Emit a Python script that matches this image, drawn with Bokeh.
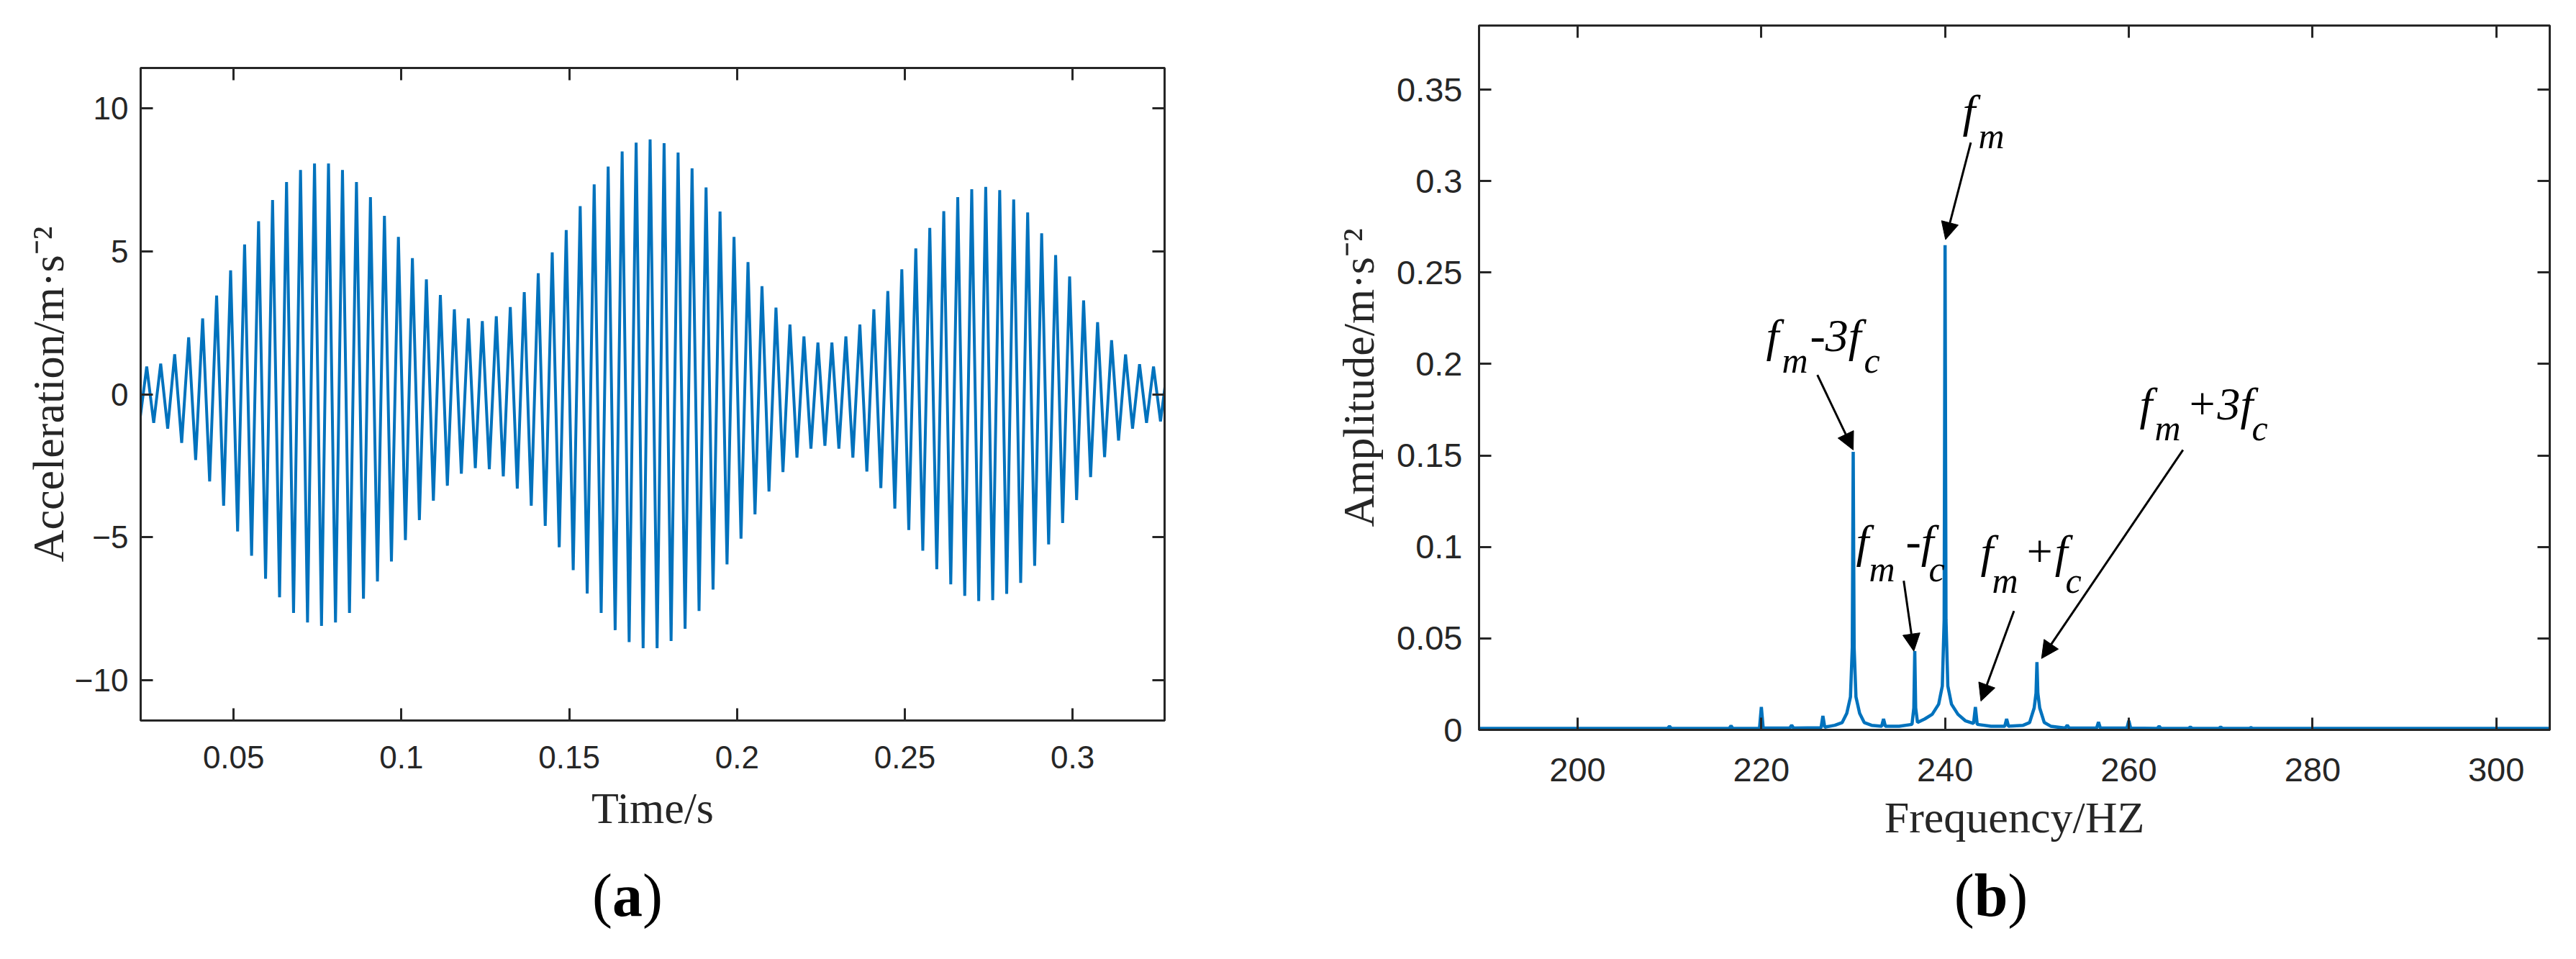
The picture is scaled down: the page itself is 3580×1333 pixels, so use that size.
from bokeh.plotting import figure
from bokeh.models import Range1d, FixedTicker, LinearAxis, Label, Arrow, NormalHead, Div
from bokeh.layouts import row, column
from bokeh.embed import file_html
from bokeh.resources import INLINE

# (a) vibration signal: amplitude of each crest / trough
carrier_hz = 240.0
first_crest_s = 0.0241
crest_amp = [0.97, 1.07, 1.40, 1.99, 2.65, 3.45, 4.33, 5.24, 6.05, 6.79,
             7.42, 7.84, 8.07, 8.07, 7.84, 7.42, 6.89, 6.24, 5.50, 4.76,
             4.02, 3.47, 2.97, 2.65, 2.56, 2.73, 3.05, 3.57, 4.23, 4.96,
             5.74, 6.58, 7.34, 7.96, 8.49, 8.80, 8.91,
             8.78, 8.45, 7.90, 7.23, 6.39, 5.50, 4.62, 3.78, 3.03,
             2.44, 2.02, 1.81, 1.81, 2.02, 2.44, 2.97, 3.61, 4.37, 5.10,
             5.82, 6.40, 6.89, 7.17, 7.25, 7.14, 6.81, 6.36, 5.63, 4.87,
             4.12, 3.28, 2.52, 1.89, 1.39, 1.05, 0.97, 0.95]
trough_amp = [0.95,
              1.0, 1.2, 1.7, 2.3, 3.05, 3.9, 4.8, 5.65, 6.45, 7.1,
              7.65, 7.98, 8.1, 7.98, 7.65, 7.15, 6.55, 5.85, 5.1, 4.4,
              3.72, 3.2, 2.78, 2.58, 2.62, 2.87, 3.3, 3.9, 4.6, 5.35,
              6.15, 6.97, 7.65, 8.25, 8.67, 8.88,
              8.88, 8.63, 8.2, 7.58, 6.83, 5.95, 5.05, 4.2, 3.4, 2.72,
              2.22, 1.9, 1.8, 1.9, 2.22, 2.7, 3.28, 4.0, 4.75, 5.47,
              6.12, 6.65, 7.05, 7.23, 7.2, 6.98, 6.6, 6.0, 5.25, 4.5,
              3.7, 2.9, 2.2, 1.62, 1.2, 1.0,
              0.95]

# (b) amplitude spectrum
spec_freq = [189, 209.8, 210.0, 210.2, 216.5, 216.7, 216.9, 219.8, 220.0, 220.2,
             223.1, 223.3, 223.5, 226.5, 226.7, 226.9, 228.0, 228.8, 229.3, 229.7,
             229.9, 230.0, 230.1, 230.3, 230.7, 231.2, 232.0, 233.1, 233.3, 233.5,
             235.0, 236.4, 236.6, 236.7, 236.8, 237.0, 237.8, 238.6, 239.3, 239.7,
             239.9, 240.0, 240.1, 240.3, 240.7, 241.4, 242.2, 243.1, 243.3, 243.5,
             245.0, 246.5, 246.7, 246.9, 248.5, 249.2, 249.7, 249.9, 250.0, 250.1,
             250.3, 250.8, 251.5, 253.1, 253.3, 253.5, 256.5, 256.7, 256.9, 259.8,
             260.0, 260.2, 263.1, 263.3, 263.5, 266.5, 266.7, 266.9, 269.8, 270.0,
             270.2, 273.1, 273.3, 273.5, 306]
spec_amp = [0.0008, 0.0008, 0.002, 0.0008, 0.0008, 0.0022, 0.0008, 0.0008, 0.0125, 0.001,
            0.001, 0.0026, 0.001, 0.0012, 0.0076, 0.0015, 0.0025, 0.004, 0.009, 0.018,
            0.045, 0.152, 0.045, 0.018, 0.009, 0.004, 0.0025, 0.002, 0.006, 0.002,
            0.002, 0.003, 0.012, 0.043, 0.012, 0.004, 0.006, 0.0085, 0.014, 0.024,
            0.06, 0.265, 0.06, 0.024, 0.014, 0.0085, 0.005, 0.0035, 0.0125, 0.003,
            0.002, 0.002, 0.006, 0.002, 0.0025, 0.004, 0.012, 0.02, 0.037, 0.02,
            0.012, 0.004, 0.002, 0.001, 0.0026, 0.001, 0.001, 0.0043, 0.001, 0.001,
            0.005, 0.001, 0.0008, 0.002, 0.0008, 0.0008, 0.0015, 0.0008, 0.0008, 0.0015,
            0.0008, 0.0008, 0.0012, 0.0008, 0.0008]

xticks_a = [0.05, 0.1, 0.15, 0.2, 0.25, 0.3]
xtick_labels_a = ["0.05", "0.1", "0.15", "0.2", "0.25", "0.3"]
yticks_a = [-10, -5, 0, 5, 10]
xticks_b = [200, 220, 240, 260, 280, 300]
yticks_b = [0, 0.05, 0.1, 0.15, 0.2, 0.25, 0.3, 0.35]
ytick_labels_b = ["0", "0.05", "0.1", "0.15", "0.2", "0.25", "0.3", "0.35"]

BLUE = "#0072BD"
AX = "#262626"
SERIF = "Liberation Serif"


def style_axis(ax, tick_size, label_size, standoff, label_standoff):
    ax.axis_line_color = AX
    ax.axis_line_width = 3
    ax.major_tick_line_color = AX
    ax.major_tick_line_width = 3
    ax.major_tick_in = 17
    ax.major_tick_out = 0
    ax.minor_tick_line_color = None
    ax.major_label_text_font = "Liberation Sans"
    ax.major_label_text_font_size = tick_size
    ax.major_label_text_color = AX
    ax.major_label_standoff = standoff
    ax.axis_label_text_font = SERIF
    ax.axis_label_text_font_style = "normal"
    ax.axis_label_text_font_size = label_size
    ax.axis_label_text_color = AX
    ax.axis_label_standoff = label_standoff


def mirror(p, ticks, side):
    # box ticks on the top / right side, no labels
    ax = LinearAxis(ticker=FixedTicker(ticks=ticks, minor_ticks=[]))
    style_axis(ax, "10px", "10px", 0, 0)
    ax.major_label_overrides = {t: "" for t in ticks}
    p.add_layout(ax, side)


def caption(letter, width, pad_left, pad_right):
    return Div(text=f"(<b>{letter}</b>)", width=width, height=100,
               styles={"font-family": SERIF, "font-size": "84px",
                       "line-height": "60px", "text-align": "center",
                       "color": "black", "padding-left": f"{pad_left}px",
                       "padding-right": f"{pad_right}px",
                       "box-sizing": "border-box"})


def base_fig(w, h, xr, yr, bl, br, bt, bb, xlab, ylab):
    p = figure(width=w, height=h, x_range=xr, y_range=yr,
               output_backend="svg", toolbar_location=None,
               min_border_left=bl, min_border_right=br,
               min_border_top=bt, min_border_bottom=bb,
               x_axis_label=xlab, y_axis_label=ylab)
    p.grid.visible = False
    p.outline_line_color = AX
    p.outline_line_width = 3
    p.background_fill_color = "white"
    p.border_fill_color = "white"
    return p


# ---------- (a) ----------
half = 0.5 / carrier_hz
t_pts, a_pts = [], []
for k in range(len(crest_amp)):
    t_pts.append(first_crest_s - half + 2 * k * half)
    a_pts.append(-trough_amp[k])
    t_pts.append(first_crest_s + 2 * k * half)
    a_pts.append(crest_amp[k])

p1 = base_fig(1780, 1210, Range1d(0.0223, 0.3274), Range1d(-11.41, 11.41),
              195, 162, 94, 209, "Time/s", "Acceleration/m·s⁻²")
p1.line(t_pts, a_pts, line_color=BLUE, line_width=4)
p1.xaxis.ticker = FixedTicker(ticks=xticks_a, minor_ticks=[])
p1.xaxis.major_label_overrides = dict(zip(xticks_a, xtick_labels_a))
p1.yaxis.ticker = FixedTicker(ticks=yticks_a, minor_ticks=[])
style_axis(p1.xaxis[0], "44px", "62px", 35, 18)
style_axis(p1.yaxis[0], "44px", "62px", 17, 0)
mirror(p1, xticks_a, "above")
mirror(p1, yticks_a, "right")

# ---------- (b) ----------
p2 = base_fig(1782, 1210, Range1d(189.27, 305.82), Range1d(0, 0.385),
              265, 29, 35, 196, "Frequency/HZ", "Amplitude/m·s⁻²")
p2.line(spec_freq, spec_amp, line_color=BLUE, line_width=4.5)
p2.xaxis.ticker = FixedTicker(ticks=xticks_b, minor_ticks=[])
p2.yaxis.ticker = FixedTicker(ticks=yticks_b, minor_ticks=[])
p2.yaxis.major_label_overrides = dict(zip(yticks_b, ytick_labels_b))
style_axis(p2.xaxis[0], "47px", "62px", 39, 13)
style_axis(p2.yaxis[0], "47px", "62px", 23, 16)
mirror(p2, xticks_b, "above")
mirror(p2, yticks_b, "right")

# peak annotations: (text, x, y, font size)
pieces = [
    ("f", 241.91, 0.3382, 64), ("m", 243.63, 0.3248, 50),
    ("f", 220.52, 0.2154, 64), ("m", 222.24, 0.2020, 50),
    ("-3f", 225.30, 0.2154, 64), ("c", 231.17, 0.2020, 50),
    ("f", 261.17, 0.1783, 64), ("m", 262.82, 0.1650, 50),
    ("+3f", 266.26, 0.1783, 64), ("c", 273.39, 0.1650, 50),
    ("f", 230.31, 0.1030, 64), ("m", 231.72, 0.0880, 50),
    ("-f", 235.72, 0.1030, 64), ("c", 238.22, 0.0880, 50),
    ("f", 243.86, 0.0975, 64), ("m", 245.12, 0.0817, 50),
    ("+f", 248.56, 0.0975, 64), ("c", 253.11, 0.0817, 50),
]
for txt, x, y, fs in pieces:
    p2.add_layout(Label(x=x, y=y, text=txt, text_font=SERIF,
                        text_font_style="italic", text_font_size=f"{fs}px",
                        text_baseline="alphabetic", text_align="left",
                        text_color="black"))

arrows = [
    (242.8, 0.321, 240.05, 0.268),
    (226.1, 0.194, 230.0, 0.153),
    (235.5, 0.0815, 236.6, 0.043),
    (247.5, 0.065, 243.9, 0.0157),
    (265.9, 0.153, 250.5, 0.039),
]
for xs, ys, xe, ye in arrows:
    p2.add_layout(Arrow(end=NormalHead(size=24, fill_color="black", line_color="black"),
                        x_start=xs, y_start=ys, x_end=xe, y_end=ye,
                        line_color="black", line_width=3))

layout = row(column(p1, caption("a", 1780, 0, 46)),
             column(p2, caption("b", 1782, 162, 0)))
open("out.html", "w").write(file_html(layout, INLINE))
